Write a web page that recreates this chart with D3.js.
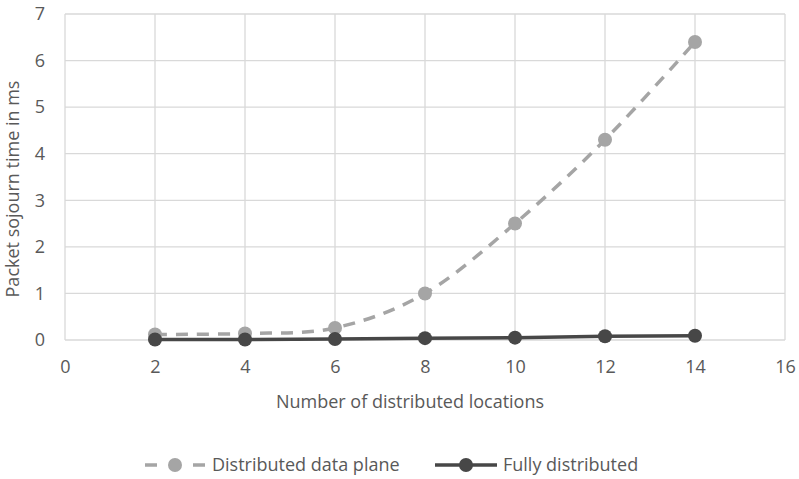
<!DOCTYPE html>
<html>
<head>
<meta charset="utf-8">
<script src="https://cdn.jsdelivr.net/npm/d3@7"></script>
<style>
  html, body { margin: 0; padding: 0; background: #fff; }
  svg { display: block; font-family: "Open Sans", Lato, sans-serif; }
</style>
</head>
<body>
<svg id="chart" width="799" height="479"></svg>
<script>
// Packet sojourn time vs. number of distributed locations
const locations = [2, 4, 6, 8, 10, 12, 14];
const dataPlaneTimes = [0.12, 0.14, 0.26, 1.0, 2.5, 4.3, 6.4];
const fullyDistTimes = [0.01, 0.01, 0.02, 0.04, 0.05, 0.08, 0.09];
const xTicks = [0, 2, 4, 6, 8, 10, 12, 14, 16];
const yTicks = [0, 1, 2, 3, 4, 5, 6, 7];
const seriesNames = ["Distributed data plane", "Fully distributed"];

const svg = d3.select("#chart");
const margin = { left: 65, right: 14, top: 14, bottom: 139 };
const W = 799, H = 479;
const fontSize = 18;
const fontFamily = "'Open Sans', Lato, sans-serif";

const x = d3.scaleLinear().domain([0, 16]).range([margin.left, W - margin.right]);
const y = d3.scaleLinear().domain([0, 7]).range([H - margin.bottom, margin.top]);

const textColor = "#595959";
const gridColor = "#d9d9d9";

// gridlines
svg.append("g")
  .selectAll("line")
  .data(yTicks)
  .join("line")
  .attr("x1", x(0)).attr("x2", x(16))
  .attr("y1", d => y(d)).attr("y2", d => y(d))
  .attr("stroke", gridColor).attr("stroke-width", 1.3);

svg.append("g")
  .selectAll("line")
  .data(xTicks)
  .join("line")
  .attr("x1", d => x(d)).attr("x2", d => x(d))
  .attr("y1", y(0)).attr("y2", y(7))
  .attr("stroke", gridColor).attr("stroke-width", 1.3);

// axes (labels only; lines are the gridlines)
const xAxis = svg.append("g")
  .attr("transform", `translate(0,${y(0)})`)
  .call(d3.axisBottom(x).tickValues(xTicks).tickFormat(d3.format("d")).tickSize(0).tickPadding(20));
const yAxis = svg.append("g")
  .attr("transform", `translate(${x(0)},0)`)
  .call(d3.axisLeft(y).tickValues(yTicks).tickFormat(d3.format("d")).tickSize(0).tickPadding(20));
[xAxis, yAxis].forEach(g => {
  g.select(".domain").remove();
  g.selectAll("text").attr("fill", textColor).attr("font-size", fontSize)
    .attr("font-family", fontFamily);
});

// axis titles
svg.append("text")
  .attr("x", 410).attr("y", 408)
  .attr("text-anchor", "middle")
  .attr("fill", textColor).attr("font-size", fontSize)
  .text("Number of distributed locations");

svg.append("text")
  .attr("transform", "translate(19,189) rotate(-90)")
  .attr("text-anchor", "middle")
  .attr("fill", textColor).attr("font-size", fontSize)
  .text("Packet sojourn time in ms");

// series
const series = [
  { name: seriesNames[0], values: dataPlaneTimes, color: "#a5a5a5", dash: "12,9", width: 3.5, curve: d3.curveCatmullRom.alpha(0) },
  { name: seriesNames[1], values: fullyDistTimes, color: "#474747", dash: null, width: 3.5, curve: d3.curveLinear }
];

series.forEach(s => {
  const pts = locations.map((l, i) => [l, s.values[i]]);
  const line = d3.line().x(d => x(d[0])).y(d => y(d[1])).curve(s.curve);
  svg.append("path")
    .attr("d", line(pts))
    .attr("fill", "none")
    .attr("stroke", s.color)
    .attr("stroke-width", s.width)
    .attr("stroke-dasharray", s.dash);
  svg.append("g")
    .selectAll("circle")
    .data(pts)
    .join("circle")
    .attr("cx", d => x(d[0])).attr("cy", d => y(d[1]))
    .attr("r", 7)
    .attr("fill", s.color);
});

// legend
const legend = [
  { s: series[0], x0: 145, x1: 205, tx: 212 },
  { s: series[1], x0: 435, x1: 497, tx: 503 }
];
const ly = 465;
legend.forEach(item => {
  const g = svg.append("g");
  if (item.s.dash) {
    g.append("line").attr("x1", item.x0).attr("x2", item.x0 + 12)
      .attr("y1", ly).attr("y2", ly).attr("stroke", item.s.color).attr("stroke-width", 3.5);
    g.append("line").attr("x1", item.x1 - 12).attr("x2", item.x1)
      .attr("y1", ly).attr("y2", ly).attr("stroke", item.s.color).attr("stroke-width", 3.5);
  } else {
    g.append("line").attr("x1", item.x0).attr("x2", item.x1)
      .attr("y1", ly).attr("y2", ly).attr("stroke", item.s.color).attr("stroke-width", 3.5);
  }
  g.append("circle").attr("cx", (item.x0 + item.x1) / 2).attr("cy", ly)
    .attr("r", 7).attr("fill", item.s.color);
  g.append("text").attr("x", item.tx).attr("y", ly + 6)
    .attr("fill", textColor).attr("font-size", fontSize)
    .text(item.s.name);
});
</script>
</body>
</html>
